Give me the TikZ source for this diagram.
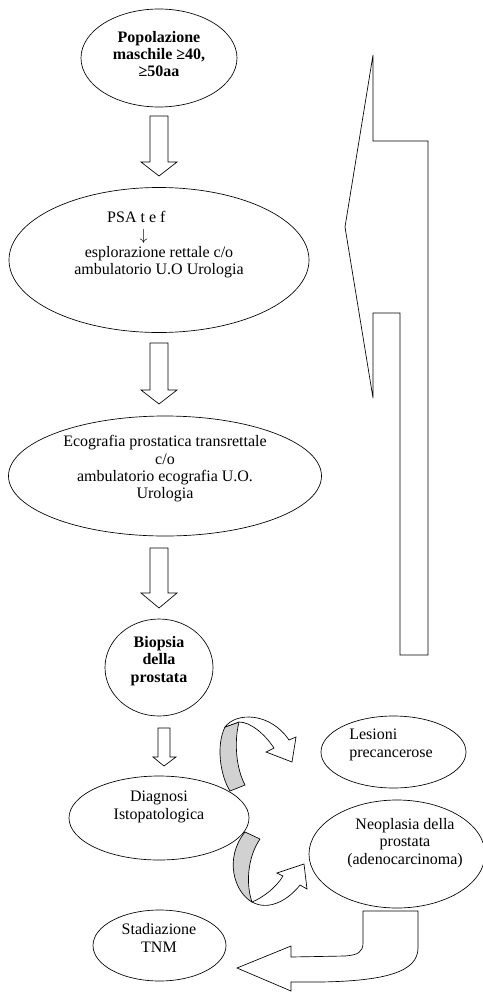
\documentclass[tikz,border=0pt]{standalone}
\usepackage{fontspec}
\setmainfont{Liberation Serif}
\usetikzlibrary{shapes.geometric}

\tikzset{
  ell/.style={draw, ellipse, inner sep=0pt, line width=0.5pt},
  txt/.style={align=center, font=\fontsize{12}{13}\selectfont},
  btxt/.style={align=center, font=\fontsize{12}{13}\selectfont\bfseries},
  blk/.style={draw, fill=white, line width=0.5pt, line join=miter},
  back/.style={draw, fill=black!18, line width=0.5pt},
}

\begin{document}
\begin{tikzpicture}[x=0.75pt, y=-0.75pt]
\useasboundingbox (0,0) rectangle (482,992);

\node[ell, minimum width=117pt, minimum height=73.5pt] (pop) at (159,58) {};
\node[ell, minimum width=225pt, minimum height=108.75pt] (psa) at (159,260) {};
\node[ell, minimum width=234.75pt, minimum height=90pt] (eco) at (165,476) {};
\node[ell, minimum width=81pt, minimum height=72.75pt] (bio) at (159,667.5) {};
\node[ell, minimum width=135pt, minimum height=63pt] (diag) at (159,818) {};
\node[ell, minimum width=108.75pt, minimum height=54pt] (les) at (393.5,752) {};
\node[ell, minimum width=132pt, minimum height=81pt] (neo) at (397,854) {};
\node[ell, minimum width=99.75pt, minimum height=53.25pt] (stad) at (159.5,945.5) {};

% frecce verticali
\draw[blk] (150,116) -- (168,116) -- (168,162) -- (177,162) -- (159,176) -- (141,162) -- (150,162) -- cycle;
\draw[blk] (150,343) -- (168,343) -- (168,390) -- (177,390) -- (159,404) -- (141,390) -- (150,390) -- cycle;
\draw[blk] (150,548) -- (168,548) -- (168,593) -- (177,593) -- (159,608) -- (141,593) -- (150,593) -- cycle;
\draw[blk] (158,728) -- (170,728) -- (170,757) -- (176,757) -- (164,766) -- (153,757) -- (158,757) -- cycle;

% freccia di ritorno a destra
\draw[blk] (373,55) -- (373,141) -- (428,141) -- (428,655) -- (400,655) -- (400,313) -- (373,313) -- (373,398) -- (345,227) -- cycle;

% frecce curve
\draw[back] (225,727) -- (239,722) .. controls (234,742) and (236,768) .. (245,785) -- (230,791) .. controls (220,775) and (216,745) .. (225,727) -- cycle;
\draw[blk] (225,727) .. controls (236,712) and (270,712) .. (289,740) -- (296,737) -- (292,762) -- (266,752) -- (274,748) .. controls (264,733) and (250,722) .. (239,722) -- cycle;

\draw[back] (245,832) -- (260,839) .. controls (247,858) and (246,885) .. (252,902) .. controls (234,892) and (224,858) .. (245,832) -- cycle;
\draw[blk] (252,902) .. controls (262,898) and (276,888) .. (283,876) -- (277,873) -- (304,864) -- (307,889) -- (300,885) .. controls (290,898) and (270,912) .. (252,902) -- cycle;

\draw[blk] (363,911) -- (418,911) -- (418,948) .. controls (418,972) and (385,981) .. (320,982) -- (291,982) -- (291,991) -- (237,968) -- (291,946) -- (291,957) -- (345,956) .. controls (358,955) and (363,952) .. (363,943) -- cycle;

% testi
\node[btxt] (poptxt) at (159,54) {Popolazione\\maschile ≥40,\\≥50aa};
\node[txt] (psatxt) at (159,245) {PSA t e f\hspace*{34pt}\\\makebox[29pt][l]{$\downarrow$}\\esplorazione rettale c/o\\ambulatorio U.O Urologia};
\node[txt] (ecotxt) at (165,469) {Ecografia prostatica transrettale\\c/o\\ambulatorio ecografia U.O.\\Urologia};
\node[btxt] (biotxt) at (159,661) {Biopsia\\della\\prostata};
\node[txt] (diagtxt) at (159,807) {Diagnosi\\Istopatologica};
\node[txt, align=left] (lestxt) at (391,745) {Lesioni\\precancerose};
\node[txt] (neotxt) at (405,843) {Neoplasia della\\prostata\\(adenocarcinoma)};
\node[txt] (stadtxt) at (159,938) {Stadiazione\\TNM};

\end{tikzpicture}
\end{document}
